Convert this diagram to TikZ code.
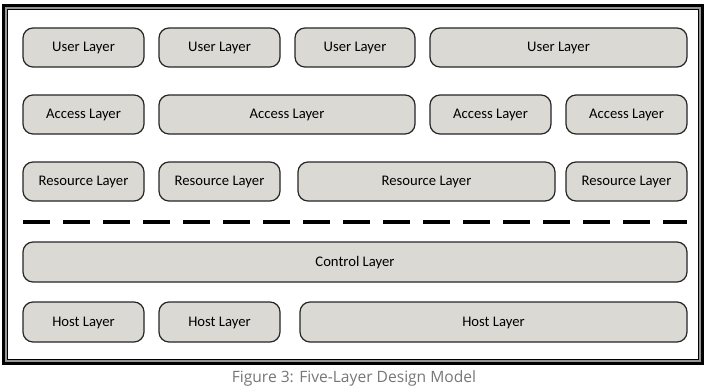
\documentclass[tikz,border=0pt]{standalone}
\usepackage{fontspec}
\newfontfamily\boxfont{Carlito}
\newfontfamily\capfont{Open Sans}
\definecolor{boxfill}{RGB}{219,217,212}
\definecolor{capgray}{RGB}{118,118,118}
\definecolor{bandgray}{RGB}{150,150,150}
\tikzset{
  layer/.style={draw=black!85, line width=0.9pt, fill=boxfill, rounded corners=7.5pt},
  layertext/.style={font=\boxfont\fontsize{11}{13}\selectfont, inner sep=0pt},
}
\newcommand{\lbox}[6]{% name, x1, y1, x2, y2, text
  \draw[layer] (#2,#3) rectangle (#4,#5);
  \node[layertext] (#1) at ({(#2+#4)/2},{(#3+#5)/2+0.5}) {#6};
}
\begin{document}
\begin{tikzpicture}[x=0.75pt,y=-0.75pt]
\useasboundingbox (0,0) rectangle (715,390);
% frame
\fill[black] (1.75,3.75) rectangle (704.25,365.25);
\fill[bandgray] (5.25,7.25) rectangle (700.75,361.75);
\draw[black, line width=0.9pt, fill=white] (7.5,9.5) rectangle (698.5,359.5);
% row 1
\lbox{u1}{23}{28}{144}{67}{User Layer}
\lbox{u2}{159}{28}{280}{67}{User Layer}
\lbox{u3}{295}{28}{415}{67}{User Layer}
\lbox{u4}{430}{28}{687}{67}{User Layer}
% row 2
\lbox{a1}{23}{95}{144}{134}{Access Layer}
\lbox{a2}{159}{95}{415}{134}{Access Layer}
\lbox{a3}{430}{95}{551}{134}{Access Layer}
\lbox{a4}{566}{95}{687}{134}{Access Layer}
% row 3
\lbox{r1}{23}{162}{144}{201}{Resource Layer}
\lbox{r2}{159}{162}{280}{201}{Resource Layer}
\lbox{r3}{298}{162}{555}{201}{Resource Layer}
\lbox{r4}{566}{162}{687}{201}{Resource Layer}
% dashed separator
\coordinate (d1) at (23,222);
\coordinate (d2) at (687,222);
\draw[black, line width=3pt, dash pattern=on 20.25pt off 9.75pt] (d1) -- (d2);
% control
\lbox{c1}{23}{242}{687}{282}{Control Layer}
% host
\lbox{h1}{23}{302}{144}{342}{Host Layer}
\lbox{h2}{159}{302}{280}{342}{Host Layer}
\lbox{h3}{300}{302}{687}{342}{Host Layer}
% caption
\node[font=\capfont\fontsize{11.7}{14}\selectfont, text=capgray, inner sep=0pt] (cap) at (354,378) {Figure 3: Five-Layer Design Model};
\end{tikzpicture}
\end{document}
